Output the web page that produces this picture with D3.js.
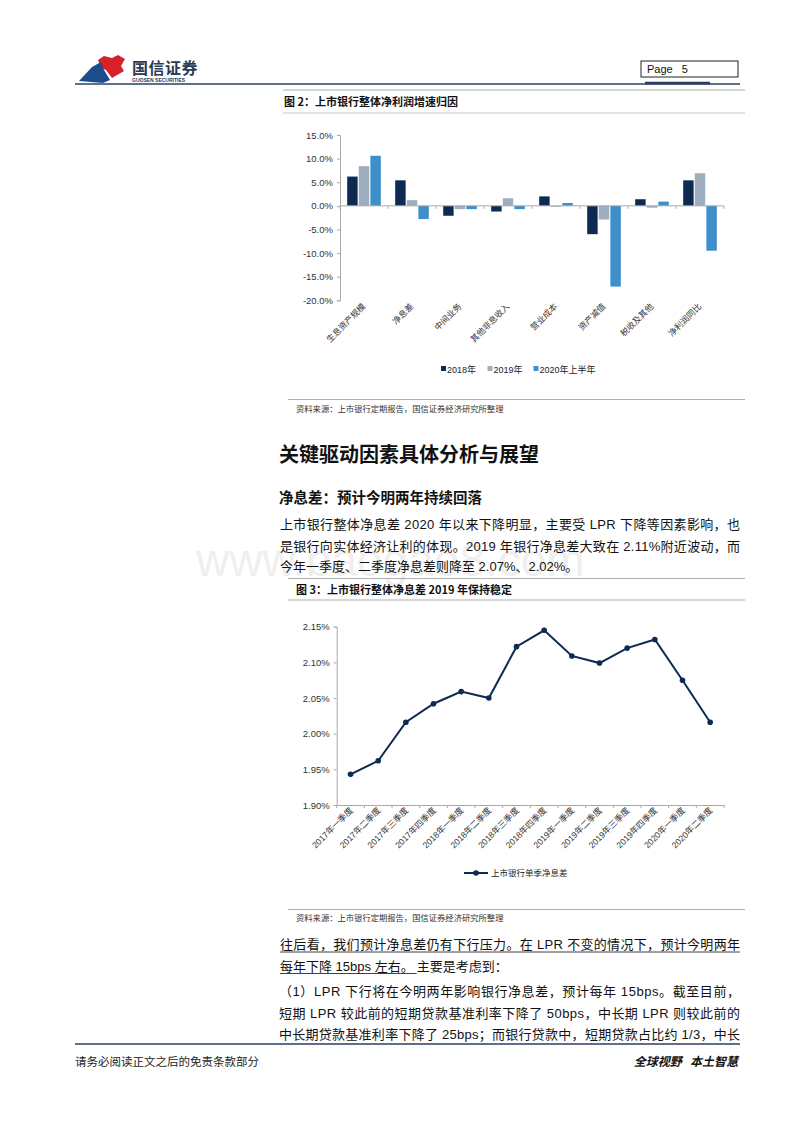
<!DOCTYPE html>
<html><head><meta charset="utf-8">
<script src="https://cdn.jsdelivr.net/npm/d3@7/dist/d3.min.js"></script>
<style>
html,body{margin:0;padding:0;background:#fff;}
svg{display:block;}
</style></head>
<body>
<script>
// ---------- DATA ----------
const factorCategories = ["生息资产规模","净息差","中间业务","其他非息收入","营业成本","资产减值","税收及其他","净利润同比"];
const series2018 = [6.2, 5.4, -2.1, -1.2, 2.0, -6.0, 1.4, 5.4];
const series2019 = [8.4, 1.2, -0.7, 1.6, -0.2, -2.9, -0.4, 6.9];
const series2020H1 = [10.6, -2.8, -0.7, -0.7, 0.6, -17.1, 0.9, -9.5];
const seriesNames = ["2018年","2019年","2020年上半年"];
const barTicks = [15, 10, 5, 0, -5, -10, -15, -20];

const quarters = ["2017年一季度","2017年二季度","2017年三季度","2017年四季度","2018年一季度","2018年二季度","2018年三季度","2018年四季度","2019年一季度","2019年二季度","2019年三季度","2019年四季度","2020年一季度","2020年二季度"];
const nimValues = [1.943, 1.962, 2.016, 2.042, 2.059, 2.050, 2.122, 2.145, 2.109, 2.099, 2.120, 2.132, 2.075, 2.016];
const nimTicks = [2.15, 2.10, 2.05, 2.00, 1.95, 1.90];
const nimName = "上市银行单季净息差";

// ---------- SETUP ----------
const W = 800, H = 1132;
const CJK = "'Noto Sans CJK SC', 'Noto Sans', sans-serif";
const LAT = "'Liberation Sans', Arial, 'Noto Sans CJK SC', sans-serif";
const navy = "#0c2a52", grey = "#9eaebf", blue = "#3f8fcb";
const svg = d3.select("body").append("svg").attr("width", W).attr("height", H);

// watermark (faint, behind text)
svg.append("text").attr("x", 196).attr("y", 576).attr("font-family", LAT).attr("font-size", 46)
  .attr("fill", "#efefef").text("www.baogao8.com");

// ---------- HEADER ----------
const logo = svg.append("g");
logo.append("path").attr("d", "M98,60 L104,56 L112,58 L118,55 L125,59 L121,66 L124,71 L112,78 L106,70 L101,68 Z").attr("fill", "#d7202a");
logo.append("path").attr("d", "M79,81 L92,67 L101,62 L104,70 L110,80 L103,83 Z").attr("fill", "#1b4d8c");
logo.append("text").attr("x", 132).attr("y", 73.5).attr("font-family", CJK).attr("font-size", 16).attr("font-weight", 700)
  .attr("fill", "#2b3a55").attr("letter-spacing", 0.5).text("国信证券");
logo.append("text").attr("x", 132).attr("y", 82).attr("font-family", LAT).attr("font-size", 5).attr("font-weight", 700)
  .attr("fill", "#2b3a55").text("GUOSEN SECURITIES");
svg.append("rect").attr("x", 641).attr("y", 61).attr("width", 97).attr("height", 16).attr("fill", "none").attr("stroke", "#222").attr("stroke-width", 1);
svg.append("text").attr("x", 647).attr("y", 73).attr("font-family", LAT).attr("font-size", 11).attr("fill", "#111")
  .style("white-space", "pre").text("Page   5");
svg.append("line").attr("x1", 75).attr("x2", 740).attr("y1", 84).attr("y2", 84).attr("stroke", "#2a3f5f").attr("stroke-width", 1.6);
svg.append("line").attr("x1", 645).attr("x2", 710).attr("y1", 83).attr("y2", 83).attr("stroke", "#2a3f5f").attr("stroke-width", 2.5);

// ---------- FIGURE 2 ----------
svg.append("line").attr("x1", 283).attr("x2", 745).attr("y1", 90).attr("y2", 90).attr("stroke", "#999").attr("stroke-width", 0.8);
svg.append("line").attr("x1", 283).attr("x2", 745).attr("y1", 113).attr("y2", 113).attr("stroke", "#bbb").attr("stroke-width", 0.8);
svg.append("text").attr("x", 284).attr("y", 105.5).attr("font-family", CJK).attr("font-size", 11).attr("font-weight", 700)
  .attr("fill", "#111").text("图 2：上市银行整体净利润增速归因");

const y1 = d3.scaleLinear().domain([-20, 15]).range([300.3, 135]);
const x1 = d3.scaleBand().domain(factorCategories).range([340, 724]).paddingInner(0.3).paddingOuter(0.15);
const xs1 = d3.scaleBand().domain(seriesNames).range([0, x1.bandwidth()]).paddingInner(0.1);
const barColors = d3.scaleOrdinal().domain(seriesNames).range([navy, grey, blue]);
const seriesData = [series2018, series2019, series2020H1];

const c1 = svg.append("g");
const yAxis1 = c1.append("g").attr("transform", "translate(340,0)")
  .call(d3.axisLeft(y1).tickValues(barTicks).tickSize(3).tickFormat(d => d.toFixed(1) + "%"));
yAxis1.select(".domain").attr("stroke", "#aaa");
yAxis1.selectAll(".tick line").attr("stroke", "#aaa");
yAxis1.selectAll(".tick text").attr("font-family", LAT).attr("font-size", 9.5).attr("fill", "#333").attr("dx", -1);

seriesData.forEach((vals, si) => {
  c1.append("g").selectAll("rect").data(vals).join("rect")
    .attr("x", (d, i) => x1(factorCategories[i]) + xs1(seriesNames[si]))
    .attr("width", xs1.bandwidth())
    .attr("y", d => y1(Math.max(0, d)))
    .attr("height", d => Math.abs(y1(d) - y1(0)))
    .attr("fill", barColors(seriesNames[si]));
});
c1.append("line").attr("x1", 340).attr("x2", 724).attr("y1", y1(0)).attr("y2", y1(0)).attr("stroke", "#aaa");
const step1 = x1.step();
c1.append("g").selectAll("line").data(d3.range(factorCategories.length + 1)).join("line")
  .attr("x1", i => 340 + i * step1).attr("x2", i => 340 + i * step1)
  .attr("y1", y1(0)).attr("y2", y1(0) + 3).attr("stroke", "#aaa");
c1.append("g").selectAll("text").data(factorCategories).join("text")
  .attr("transform", d => `translate(${x1(d) + x1.bandwidth() / 2 + 2},307) rotate(-45)`)
  .attr("text-anchor", "end").attr("font-family", CJK).attr("font-size", 8.5).attr("fill", "#333").text(d => d);
const legX = [441, 487.5, 533.5];
seriesNames.forEach((n, i) => {
  c1.append("rect").attr("x", legX[i]).attr("y", 366).attr("width", 5).attr("height", 5).attr("fill", barColors(n));
  c1.append("text").attr("x", legX[i] + 6).attr("y", 372.5).attr("font-family", LAT).attr("font-size", 9).attr("fill", "#222").text(n);
});
svg.append("line").attr("x1", 288).attr("x2", 745).attr("y1", 399.5).attr("y2", 399.5).attr("stroke", "#999").attr("stroke-width", 0.8);
svg.append("text").attr("x", 296).attr("y", 412).attr("font-family", CJK).attr("font-size", 8.3).attr("fill", "#333")
  .text("资料来源：上市银行定期报告，国信证券经济研究所整理");

// ---------- TEXT SECTION ----------
svg.append("text").attr("x", 279).attr("y", 462).attr("font-family", CJK).attr("font-size", 20).attr("font-weight", 700)
  .attr("fill", "#111").text("关键驱动因素具体分析与展望");
svg.append("text").attr("x", 279).attr("y", 503).attr("font-family", CJK).attr("font-size", 14.5).attr("font-weight", 700)
  .attr("fill", "#111").text("净息差：预计今明两年持续回落");

const p1 = ["上市银行整体净息差 2020 年以来下降明显，主要受 LPR 下降等因素影响，也",
            "是银行向实体经济让利的体现。2019 年银行净息差大致在 2.11%附近波动，而",
            "今年一季度、二季度净息差则降至 2.07%、2.02%。"];
const p1y = [529, 550.5, 571];
p1.forEach((t, i) => {
  const el = svg.append("text").attr("x", 280).attr("y", p1y[i]).attr("font-family", LAT).attr("font-size", 13)
    .attr("fill", "#111").text(t);
  if (i < 2) el.attr("textLength", 460).attr("lengthAdjust", "spacing");
});

// ---------- FIGURE 3 ----------
svg.append("line").attr("x1", 288).attr("x2", 745).attr("y1", 578.5).attr("y2", 578.5).attr("stroke", "#999").attr("stroke-width", 0.8);
svg.append("line").attr("x1", 288).attr("x2", 745).attr("y1", 600).attr("y2", 600).attr("stroke", "#999").attr("stroke-width", 0.8);
svg.append("text").attr("x", 296).attr("y", 594).attr("font-family", CJK).attr("font-size", 11).attr("font-weight", 700)
  .attr("fill", "#111").text("图 3：上市银行整体净息差 2019 年保持稳定");

const y2 = d3.scaleLinear().domain([1.90, 2.15]).range([805, 626.7]);
const x2 = d3.scaleBand().domain(quarters).range([336.7, 724]);
const c2 = svg.append("g");
const yAxis2 = c2.append("g").attr("transform", "translate(336.7,0)")
  .call(d3.axisLeft(y2).tickValues(nimTicks).tickSize(3).tickFormat(d => d.toFixed(2) + "%"));
yAxis2.select(".domain").attr("stroke", "#aaa");
yAxis2.selectAll(".tick line").attr("stroke", "#aaa");
yAxis2.selectAll(".tick text").attr("font-family", LAT).attr("font-size", 9.5).attr("fill", "#333").attr("dx", -1);
const xAxis2 = c2.append("g").attr("transform", "translate(0,805)")
  .call(d3.axisBottom(x2).tickSize(0).tickFormat(""));
xAxis2.select(".domain").attr("stroke", "#aaa");
c2.append("g").selectAll("line").data(d3.range(quarters.length + 1)).join("line")
  .attr("x1", i => 336.7 + i * x2.step()).attr("x2", i => 336.7 + i * x2.step())
  .attr("y1", 805).attr("y2", 808).attr("stroke", "#aaa");
const lineGen = d3.line().x((d, i) => x2(quarters[i]) + x2.bandwidth() / 2).y(d => y2(d));
c2.append("path").datum(nimValues).attr("d", lineGen).attr("fill", "none").attr("stroke", navy).attr("stroke-width", 2);
c2.append("g").selectAll("circle").data(nimValues).join("circle")
  .attr("cx", (d, i) => x2(quarters[i]) + x2.bandwidth() / 2).attr("cy", d => y2(d)).attr("r", 2.8).attr("fill", navy);
c2.append("g").selectAll("text").data(quarters).join("text")
  .attr("transform", d => `translate(${x2(d) + x2.bandwidth() / 2 + 3},811) rotate(-45)`)
  .attr("text-anchor", "end").attr("font-family", LAT).attr("font-size", 8.6).attr("fill", "#333").text(d => d);
c2.append("line").attr("x1", 464).attr("x2", 488).attr("y1", 873).attr("y2", 873).attr("stroke", navy).attr("stroke-width", 2);
c2.append("circle").attr("cx", 476).attr("cy", 873).attr("r", 2.8).attr("fill", navy);
c2.append("text").attr("x", 491).attr("y", 876).attr("font-family", CJK).attr("font-size", 8.5).attr("fill", "#222").text(nimName);

svg.append("line").attr("x1", 288).attr("x2", 745).attr("y1", 909.5).attr("y2", 909.5).attr("stroke", "#999").attr("stroke-width", 0.8);
svg.append("text").attr("x", 296).attr("y", 921).attr("font-family", CJK).attr("font-size", 8.3).attr("fill", "#333")
  .text("资料来源：上市银行定期报告，国信证券经济研究所整理");

// ---------- BOTTOM TEXT ----------
svg.append("text").attr("x", 280).attr("y", 949).attr("font-family", LAT).attr("font-size", 13).attr("fill", "#111")
  .attr("textLength", 460).attr("lengthAdjust", "spacing")
  .text("往后看，我们预计净息差仍有下行压力。在 LPR 不变的情况下，预计今明两年");
svg.append("line").attr("x1", 280).attr("x2", 740).attr("y1", 952).attr("y2", 952).attr("stroke", "#111").attr("stroke-width", 0.8);
const b2a = svg.append("text").attr("x", 280).attr("y", 970.5).attr("font-family", LAT).attr("font-size", 13).attr("fill", "#111")
  .text("每年下降 15bps 左右。");
const w2a = b2a.node().getComputedTextLength();
svg.append("line").attr("x1", 280).attr("x2", 280 + w2a + 3).attr("y1", 973.5).attr("y2", 973.5).attr("stroke", "#111").attr("stroke-width", 0.8);
svg.append("text").attr("x", 280 + w2a + 3).attr("y", 970.5).attr("font-family", LAT).attr("font-size", 13).attr("fill", "#111")
  .text("主要是考虑到：");
const p3 = ["（1）LPR 下行将在今明两年影响银行净息差，预计每年 15bps。截至目前，",
            "短期 LPR 较此前的短期贷款基准利率下降了 50bps，中长期 LPR 则较此前的",
            "中长期贷款基准利率下降了 25bps；而银行贷款中，短期贷款占比约 1/3，中长"];
const p3y = [996, 1017.5, 1039];
p3.forEach((t, i) => {
  svg.append("text").attr("x", 279).attr("y", p3y[i]).attr("font-family", LAT).attr("font-size", 13).attr("fill", "#111")
    .attr("textLength", 461).attr("lengthAdjust", "spacing").text(t);
});

// ---------- FOOTER ----------
svg.append("line").attr("x1", 75).attr("x2", 740).attr("y1", 1044).attr("y2", 1044).attr("stroke", "#2a3f5f").attr("stroke-width", 1.6);
svg.append("text").attr("x", 75).attr("y", 1066).attr("font-family", CJK).attr("font-size", 11.5).attr("fill", "#222")
  .text("请务必阅读正文之后的免责条款部分");
svg.append("text").attr("x", 738).attr("y", 1066).attr("text-anchor", "end").attr("font-family", CJK).attr("font-size", 12)
  .attr("font-weight", 700).attr("font-style", "italic").attr("fill", "#111").style("white-space", "pre").text("全球视野   本土智慧");
</script>
</body></html>
